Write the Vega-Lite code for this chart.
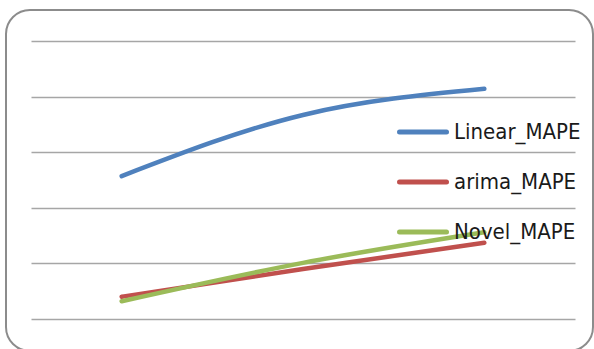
{
  "$schema": "https://vega.github.io/schema/vega-lite/v6.json",
  "width": 587,
  "height": 341,
  "autosize": {"type": "none"},
  "padding": {"left": 6, "top": 10, "right": 1, "bottom": 0},
  "background": "white",
  "config": {
    "view": {"stroke": "#8c8c8c", "strokeWidth": 2, "cornerRadius": 24, "fill": "white"},
    "font": "DejaVu Sans Condensed, Liberation Sans, sans-serif"
  },
  "data": {
    "values": [
      {"series": "Linear_MAPE", "step": 1, "mape": 2.57},
      {"series": "Linear_MAPE", "step": 2, "mape": 3.67},
      {"series": "Linear_MAPE", "step": 3, "mape": 4.14},
      {"series": "arima_MAPE", "step": 1, "mape": 0.40},
      {"series": "arima_MAPE", "step": 2, "mape": 0.90},
      {"series": "arima_MAPE", "step": 3, "mape": 1.37},
      {"series": "Novel_MAPE", "step": 1, "mape": 0.32},
      {"series": "Novel_MAPE", "step": 2, "mape": 1.01},
      {"series": "Novel_MAPE", "step": 3, "mape": 1.56}
    ]
  },
  "mark": {"type": "line", "interpolate": "monotone", "strokeWidth": 4.5, "strokeCap": "round"},
  "encoding": {
    "x": {
      "field": "step",
      "type": "quantitative",
      "scale": {"domain": [0.5, 3.5], "range": [25, 569], "nice": false, "zero": false},
      "axis": null
    },
    "y": {
      "field": "mape",
      "type": "quantitative",
      "scale": {"domain": [0, 5], "range": [309, 31], "nice": false, "zero": false},
      "axis": {
        "values": [0, 1, 2, 3, 4, 5],
        "grid": true,
        "gridColor": "#a6a6a6",
        "gridWidth": 1.3,
        "gridOpacity": 1,
        "domain": false,
        "ticks": false,
        "labels": false,
        "title": null
      }
    },
    "color": {
      "field": "series",
      "type": "nominal",
      "scale": {
        "domain": ["Linear_MAPE", "arima_MAPE", "Novel_MAPE"],
        "range": ["#4F81BD", "#C0504D", "#9BBB59"]
      },
      "legend": {
        "orient": "none",
        "legendX": 391,
        "legendY": 96,
        "title": null,
        "padding": 0,
        "symbolType": "stroke",
        "symbolSize": 2209,
        "symbolStrokeWidth": 5,
        "labelFont": "DejaVu Sans Condensed, Liberation Sans, sans-serif",
        "labelFontSize": 22,
        "labelColor": "#1a1a1a",
        "labelOffset": 5,
        "labelLimit": 0,
        "rowPadding": 13,
        "encode": {"symbols": {"update": {"strokeCap": {"value": "round"}}}}
      }
    }
  }
}
